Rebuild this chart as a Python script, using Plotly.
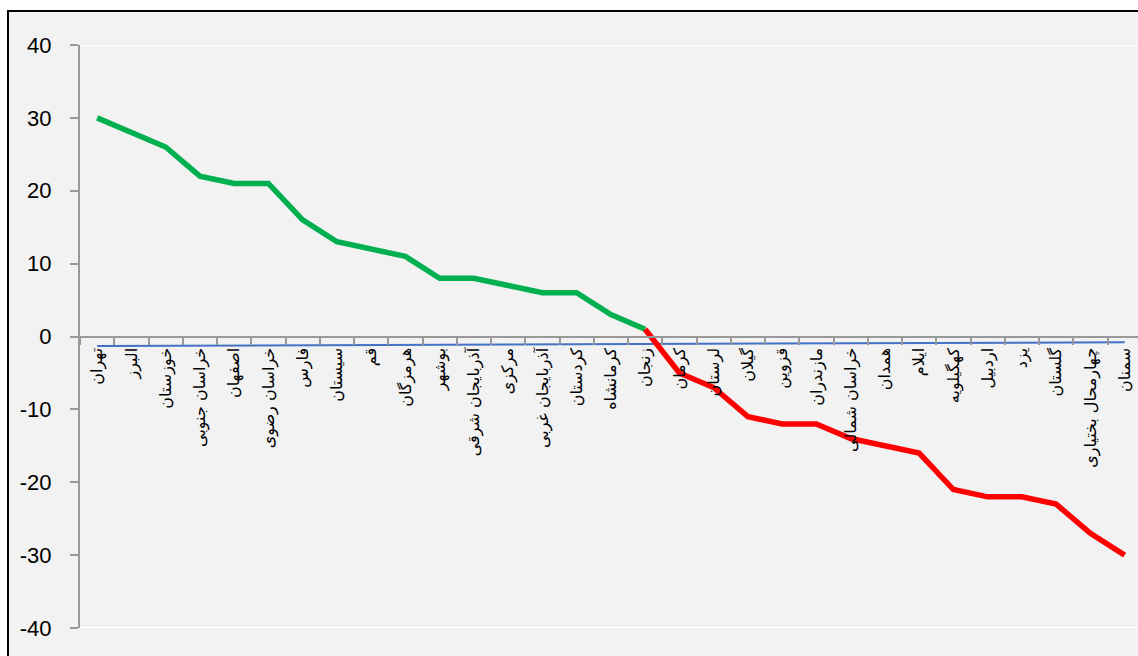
import plotly.graph_objects as go

provinces = ["تهران", "البرز", "خوزستان", "خراسان جنوبی", "اصفهان", "خراسان رضوی", "فارس",
             "سیستان", "قم", "هرمزگان", "بوشهر", "آذربایجان شرقی", "مرکزی", "آذربایجان غربی",
             "کردستان", "کرمانشاه", "زنجان", "کرمان", "لرستان", "گیلان", "قزوین", "مازندران",
             "خراسان شمالی", "همدان", "ایلام", "کهگیلویه", "اردبیل", "یزد", "گلستان",
             "چهارمحال بختیاری", "سمنان"]
values = [30, 28, 26, 22, 21, 21, 16, 13, 12, 11, 8, 8, 7, 6, 6, 3, 1,
          -5, -7, -11, -12, -12, -14, -15, -16, -21, -22, -22, -23, -27, -30]
split_index = 16  # last positive province (زنجان)
baseline_values = [-1.3, -0.8]  # thin blue reference line at first / last province
y_ticks = [40, 30, 20, 10, 0, -10, -20, -30, -40]
y_tick_text = ["40", "30", "20", "10", "0", "-10", "-20", "-30", "-40"]

pos_x = provinces[:split_index + 1]
pos_y = values[:split_index + 1]
neg_x = provinces[split_index:]
neg_y = values[split_index:]

fig = go.Figure()
fig.add_trace(go.Scatter(x=[provinces[0], provinces[-1]], y=baseline_values, mode="lines",
                         line=dict(color="#4472c4", width=2), hoverinfo="skip"))
fig.add_trace(go.Scatter(x=pos_x, y=pos_y, mode="lines",
                         line=dict(color="#00b050", width=5.5)))
fig.add_trace(go.Scatter(x=neg_x, y=neg_y, mode="lines",
                         line=dict(color="#ff0000", width=5.5)))

W, H = 1138, 656
ml, mr, mt, mb = 80, 0, 45, 28
pw = W - ml - mr
ph = H - mt - mb

def px_x(p):
    return (p - ml) / pw

def px_y(p):
    return (H - mb - p) / ph

fig.add_shape(type="rect", xref="paper", yref="paper",
              x0=px_x(8), x1=px_x(1160), y0=px_y(680), y1=px_y(11),
              fillcolor="#f2f2f2", line=dict(color="black", width=2), layer="below")
# plot-area top/bottom white border
for yv in (40, -40):
    fig.add_shape(type="line", xref="paper", yref="y", x0=0, x1=1.02, y0=yv, y1=yv,
                  line=dict(color="white", width=2), layer="below")

fig.update_layout(
    width=W, height=H,
    margin=dict(l=ml, r=mr, t=mt, b=mb),
    paper_bgcolor="white",
    plot_bgcolor="rgba(0,0,0,0)",
    showlegend=False,
    xaxis=dict(
        type="category",
        categoryorder="array", categoryarray=provinces,
        range=[-0.5, 30.39],
        anchor="free", position=0.5,
        showline=True, linecolor="#999999", linewidth=2,
        ticks="outside", tickson="boundaries", ticklen=7, tickwidth=1.5, tickcolor="#999999",
        tickangle=-90, ticklabelstandoff=4,
        tickfont=dict(family="DejaVu Sans", size=16, color="black"),
        showgrid=False, zeroline=False,
    ),
    yaxis=dict(
        range=[-40, 40],
        tickvals=y_ticks, ticktext=y_tick_text,
        showline=True, linecolor="#999999", linewidth=2,
        ticks="outside", ticklen=8, tickwidth=2, tickcolor="#999999",
        ticklabelstandoff=14,
        tickfont=dict(family="Liberation Sans", size=22, color="black"),
        showgrid=False, zeroline=False,
    ),
)

fig.write_html("out.html", config={"displayModeBar": False},
               post_script="document.body.style.margin='0';document.body.style.overflow='hidden';")
